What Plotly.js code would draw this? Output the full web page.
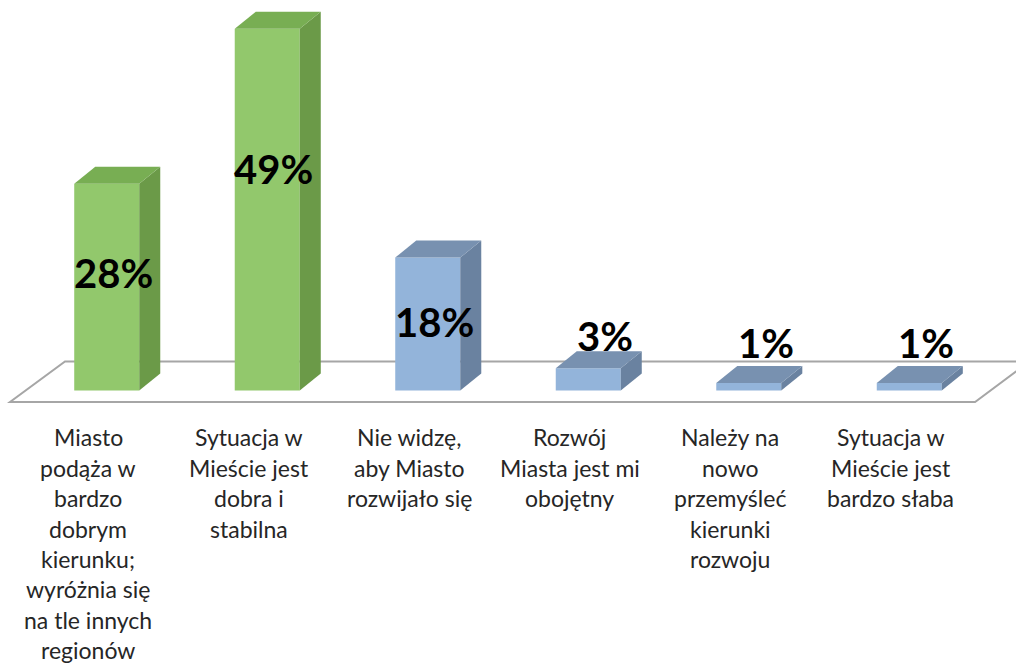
<!DOCTYPE html>
<html>
<head>
<meta charset="utf-8">
<script src="https://cdn.plot.ly/plotly-3.0.1.min.js"></script>
<style>html,body{margin:0;padding:0;background:#fff;}#chart{width:1016px;height:665px;}</style>
</head>
<body>
<div id="chart"></div>
<script>
// ---- data ----
const categories = [
  "Miasto<br>podąża w<br>bardzo<br>dobrym<br>kierunku;<br>wyróżnia się<br>na tle innych<br>regionów",
  "Sytuacja w<br>Mieście jest<br>dobra i<br>stabilna",
  "Nie widzę,<br>aby Miasto<br>rozwijało się",
  "Rozwój<br>Miasta jest mi<br>obojętny",
  "Należy na<br>nowo<br>przemyśleć<br>kierunki<br>rozwoju",
  "Sytuacja w<br>Mieście jest<br>bardzo słaba"
];
const values = [28, 49, 18, 3, 1, 1];
const groups = ["pos", "pos", "neg", "neg", "neg", "neg"];

// ---- styles ----
const palette = {
  pos: {front: "#92C86C", side: "#6B9A48", top: "#78AE53"},
  neg: {front: "#93B4DA", side: "#6A82A0", top: "#7891B0"}
};
const HW = 0.2025;      // half width of front face (category units)
const DX = 0.131;       // depth offset x
const DY = 2.3;         // depth offset y (percent units)
const FONT = "Lato, 'Open Sans', sans-serif";

const xs = values.map((v, i) => i);
const traces = [];

// front faces (bars)
traces.push({
  type: "bar", x: xs, y: values, width: 2 * HW,
  marker: {color: groups.map(g => palette[g].front), line: {width: 0}},
  hoverinfo: "skip", showlegend: false
});

// side and top faces
values.forEach((v, i) => {
  const c = palette[groups[i]];
  traces.push({
    type: "scatter", mode: "lines", fill: "toself", fillcolor: c.side,
    line: {width: 0, color: c.side},
    x: [i + HW, i + HW + DX, i + HW + DX, i + HW, i + HW],
    y: [0, DY, v + DY, v, 0],
    hoverinfo: "skip", showlegend: false
  });
  traces.push({
    type: "scatter", mode: "lines", fill: "toself", fillcolor: c.top,
    line: {width: 0, color: c.top},
    x: [i - HW, i + HW, i + HW + DX, i - HW + DX, i - HW],
    y: [v, v, v + DY, v + DY, v],
    hoverinfo: "skip", showlegend: false
  });
});

// floor (decoration)
const n = categories.length;
const fl = {fx0: -0.6025, fx1: n - 1 + 0.41, bx0: -0.26, bx1: n - 1 + 0.75, fy: -1.56, by: 3.93};
const shapes = [{
  type: "path", xref: "x", yref: "y", layer: "below",
  path: `M ${fl.fx0},${fl.fy} L ${fl.fx1},${fl.fy} L ${fl.bx1},${fl.by} L ${fl.bx0},${fl.by} Z`,
  line: {color: "#A6A6A6", width: 2}, fillcolor: "#FFFFFF"
}];

// annotations
const annotations = [];
values.forEach((v, i) => {
  const inside = v >= 10;
  annotations.push({
    x: i + (inside ? 0.04 : 0.105), y: inside ? 0.671 * v - 2.85 : 0.45 * v + 6,
    xref: "x", yref: "y", text: v + "%", showarrow: false,
    xanchor: "center", yanchor: "middle",
    font: {family: FONT, size: 40, color: "#000", weight: 700}
  });
});
categories.forEach((c, i) => {
  c.split("<br>").forEach((line, k) => {
    annotations.push({
      x: i - 0.115, y: -6.35 - 4.12 * k, xref: "x", yref: "y",
      text: line, showarrow: false, xanchor: "center", yanchor: "middle",
      font: {family: FONT, size: 23, color: "#262626"}
    });
  });
});

const layout = {
  width: 1016, height: 665,
  margin: {l: 0, r: 0, t: 0, b: 0},
  paper_bgcolor: "#fff", plot_bgcolor: "#fff",
  showlegend: false,
  xaxis: {range: [-0.665, 5.665], visible: false, fixedrange: true},
  yaxis: {range: [-37.2, 52.9], visible: false, fixedrange: true},
  shapes: shapes, annotations: annotations
};
Plotly.newPlot("chart", traces, layout, {staticPlot: true});
</script>
</body>
</html>
